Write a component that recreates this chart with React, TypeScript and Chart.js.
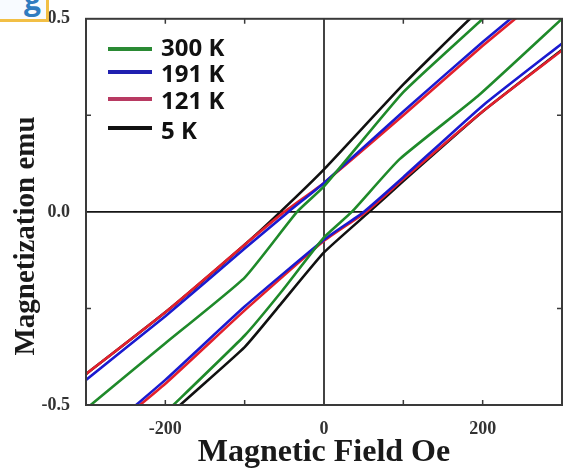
import React, { useEffect, useRef } from 'react';
import { Chart, registerables } from 'chart.js';

Chart.register(...registerables);

// ---- data (Magnetic field in Oe, magnetization in emu) ----
const green300UpperH = [-300, -200, -100, -34, 0, 100, 200, 300];
const green300UpperM = [-0.51, -0.34, -0.17, 0, 0.066, 0.31, 0.5, 0.7];
const green300LowerH = [-300, -200, -100, -55, 0, 35, 95, 194, 300];
const green300LowerM = [-0.72, -0.52, -0.32, -0.21, -0.066, 0, 0.136, 0.3, 0.5];

const blue191UpperH = [-300, -200, -100, -45, 0, 100, 200, 300];
const blue191UpperM = [-0.435, -0.27, -0.095, 0, 0.075, 0.26, 0.44, 0.61];
const blue191LowerH = [-300, -200, -100, 0, 50, 100, 200, 300];
const blue191LowerM = [-0.61, -0.435, -0.245, -0.072, 0, 0.09, 0.275, 0.436];

const red121UpperH = [-300, -200, -100, -50, 0, 100, 200, 300];
const red121UpperM = [-0.42, -0.26, -0.085, 0, 0.075, 0.25, 0.43, 0.6];
const red121LowerH = [-300, -200, -100, 0, 53, 100, 200, 300];
const red121LowerM = [-0.615, -0.445, -0.255, -0.075, 0, 0.085, 0.26, 0.418];

const black5UpperH = [-300, -200, -100, -55, 0, 100, 184, 300];
const black5UpperM = [-0.42, -0.26, -0.085, 0, 0.11, 0.33, 0.5, 0.72];
const black5LowerH = [-300, -200, -100, -55, 0, 57, 100, 200, 300];
const black5LowerM = [-0.75, -0.535, -0.35, -0.24, -0.105, 0, 0.08, 0.26, 0.42];

const legendLabels = ['300 K', '191 K', '121 K', '5 K'];
const legendColors = ['#2a8a34', '#2020b0', '#b83a62', '#111111'];
const lineColors = { green: '#1f8a2a', blue: '#1a1ad0', red: '#e3202c', black: '#111111' };

const xTickValues = [-200, 0, 200];
const xTickLabels = ['-200', '0', '200'];
const yTickValues = [-0.5, 0, 0.5];
const yTickLabels = ['-0.5', '0.0', '0.5'];
const xMinorTicks = [-200, -100, 100, 200];
const yMinorTicks = [-0.25, 0.25];
const yTitle = 'Magnetization emu';

const toPts = (h: number[], m: number[]) => h.map((v, i) => ({ x: v, y: m[i] }));

const serif = "'Liberation Serif', 'Times New Roman', serif";

const framePlugin = {
  id: 'frame',
  beforeDatasetsDraw(chart: any) {
    const { ctx, chartArea, scales } = chart;
    const { left, right, top, bottom } = chartArea;
    const x0 = scales.x.getPixelForValue(0);
    const y0 = scales.y.getPixelForValue(0);
    ctx.save();
    ctx.strokeStyle = '#151515';
    ctx.lineWidth = 1.6;
    ctx.beginPath();
    ctx.moveTo(x0, top);
    ctx.lineTo(x0, bottom);
    ctx.moveTo(left, y0);
    ctx.lineTo(right, y0);
    ctx.stroke();
    ctx.restore();
  },
  afterDatasetsDraw(chart: any) {
    const { ctx, chartArea, scales } = chart;
    const { left, right, top, bottom } = chartArea;
    ctx.save();
    ctx.strokeStyle = '#3a3a3a';
    ctx.lineWidth = 2;
    ctx.strokeRect(left, top, right - left, bottom - top);
    ctx.lineWidth = 1.5;
    ctx.beginPath();
    const tl = 5;
    xMinorTicks.forEach((v) => {
      const px = scales.x.getPixelForValue(v);
      ctx.moveTo(px, bottom);
      ctx.lineTo(px, bottom - tl);
      ctx.moveTo(px, top);
      ctx.lineTo(px, top + tl);
    });
    yMinorTicks.forEach((v) => {
      const py = scales.y.getPixelForValue(v);
      ctx.moveTo(left, py);
      ctx.lineTo(left + tl, py);
      ctx.moveTo(right, py);
      ctx.lineTo(right - tl, py);
    });
    ctx.stroke();

    // legend
    const rowY = [49, 72, 99, 128];
    const baseY = [56, 82, 109, 139];
    ctx.font = "bold 24px 'Open Sans', sans-serif";
    ctx.textBaseline = 'alphabetic';
    ctx.textAlign = 'left';
    legendLabels.forEach((lab, i) => {
      ctx.strokeStyle = legendColors[i];
      ctx.lineWidth = 4;
      ctx.beginPath();
      ctx.moveTo(108, rowY[i]);
      ctx.lineTo(152, rowY[i]);
      ctx.stroke();
      ctx.fillStyle = '#111';
      ctx.fillText(lab, 161, baseY[i]);
    });

    // y axis title
    ctx.save();
    ctx.translate(27, 236);
    ctx.rotate(-Math.PI / 2);
    ctx.font = `bold 29px ${serif}`;
    ctx.fillStyle = '#1a1a1a';
    ctx.textAlign = 'center';
    ctx.textBaseline = 'middle';
    ctx.fillText(yTitle, 0, 0);
    ctx.restore();

    ctx.restore();
  },
};

export default function App() {
  const ref = useRef<HTMLCanvasElement | null>(null);

  useEffect(() => {
    document.body.style.margin = '0';
    const canvas = ref.current;
    if (!canvas) return;
    const mk = (h: number[], m: number[], color: string) => ({
      data: toPts(h, m),
      borderColor: color,
      backgroundColor: color,
      borderWidth: 2.6,
      pointRadius: 0,
      tension: 0.15,
      fill: false,
    });
    const chart = new Chart(canvas, {
      type: 'line',
      data: {
        datasets: [
          mk(green300UpperH, green300UpperM, lineColors.green),
          mk(green300LowerH, green300LowerM, lineColors.green),
          mk(blue191UpperH, blue191UpperM, lineColors.blue),
          mk(blue191LowerH, blue191LowerM, lineColors.blue),
          mk(red121UpperH, red121UpperM, lineColors.red),
          mk(red121LowerH, red121LowerM, lineColors.red),
          mk(black5UpperH, black5UpperM, lineColors.black),
          mk(black5LowerH, black5LowerM, lineColors.black),
        ] as any,
      },
      options: {
        animation: false,
        responsive: false,
        maintainAspectRatio: false,
        layout: { padding: { top: 15, right: 1, left: 0, bottom: 0 } },
        plugins: { legend: { display: false }, tooltip: { enabled: false } },
        scales: {
          x: {
            type: 'linear',
            min: -300,
            max: 300,
            grid: { display: false },
            border: { display: false },
            afterBuildTicks: (s: any) => {
              s.ticks = xTickValues.map((v) => ({ value: v }));
            },
            afterFit: (s: any) => {
              s.height = 66;
            },
            ticks: {
              padding: 6,
              color: '#333',
              font: { family: serif, size: 18, weight: 'bold' },
              callback: (v: any) => xTickLabels[xTickValues.indexOf(Number(v))] ?? '',
              maxRotation: 0,
            },
            title: {
              display: true,
              text: 'Magnetic Field Oe',
              color: '#1a1a1a',
              font: { family: serif, size: 32, weight: 'bold' },
              padding: { top: 0, bottom: -1 },
            },
          },
          y: {
            type: 'linear',
            min: -0.5,
            max: 0.5,
            grid: { display: false },
            border: { display: false },
            afterBuildTicks: (s: any) => {
              s.ticks = yTickValues.map((v) => ({ value: v }));
            },
            afterFit: (s: any) => {
              s.width = 86;
            },
            ticks: {
              padding: 8,
              color: '#333',
              font: { family: serif, size: 18, weight: 'bold' },
              callback: (v: any) => yTickLabels[yTickValues.indexOf(Number(v))] ?? '',
            },
            title: { display: false },
          },
        },
      },
      plugins: [framePlugin],
    } as any);
    return () => chart.destroy();
  }, []);

  return (
    <div style={{ position: 'relative', width: 563, height: 471 }}>
      <canvas ref={ref} width={563} height={471} style={{ display: 'block', width: 563, height: 471 }} />
      <div
        style={{
          position: 'absolute',
          left: 0,
          top: 0,
          width: 49,
          height: 22,
          boxSizing: 'border-box',
          borderRight: '3px solid #f2bf45',
          borderBottom: '3px solid #f2bf45',
          background: '#f8fbff',
          overflow: 'hidden',
        }}
      >
        <span
          style={{
            position: 'absolute',
            left: 24,
            top: -16,
            fontFamily: "'Open Sans', sans-serif",
            fontWeight: 'bold',
            fontSize: 30,
            lineHeight: '30px',
            color: '#2f7cc0',
          }}
        >
          g
        </span>
      </div>
    </div>
  );
}
